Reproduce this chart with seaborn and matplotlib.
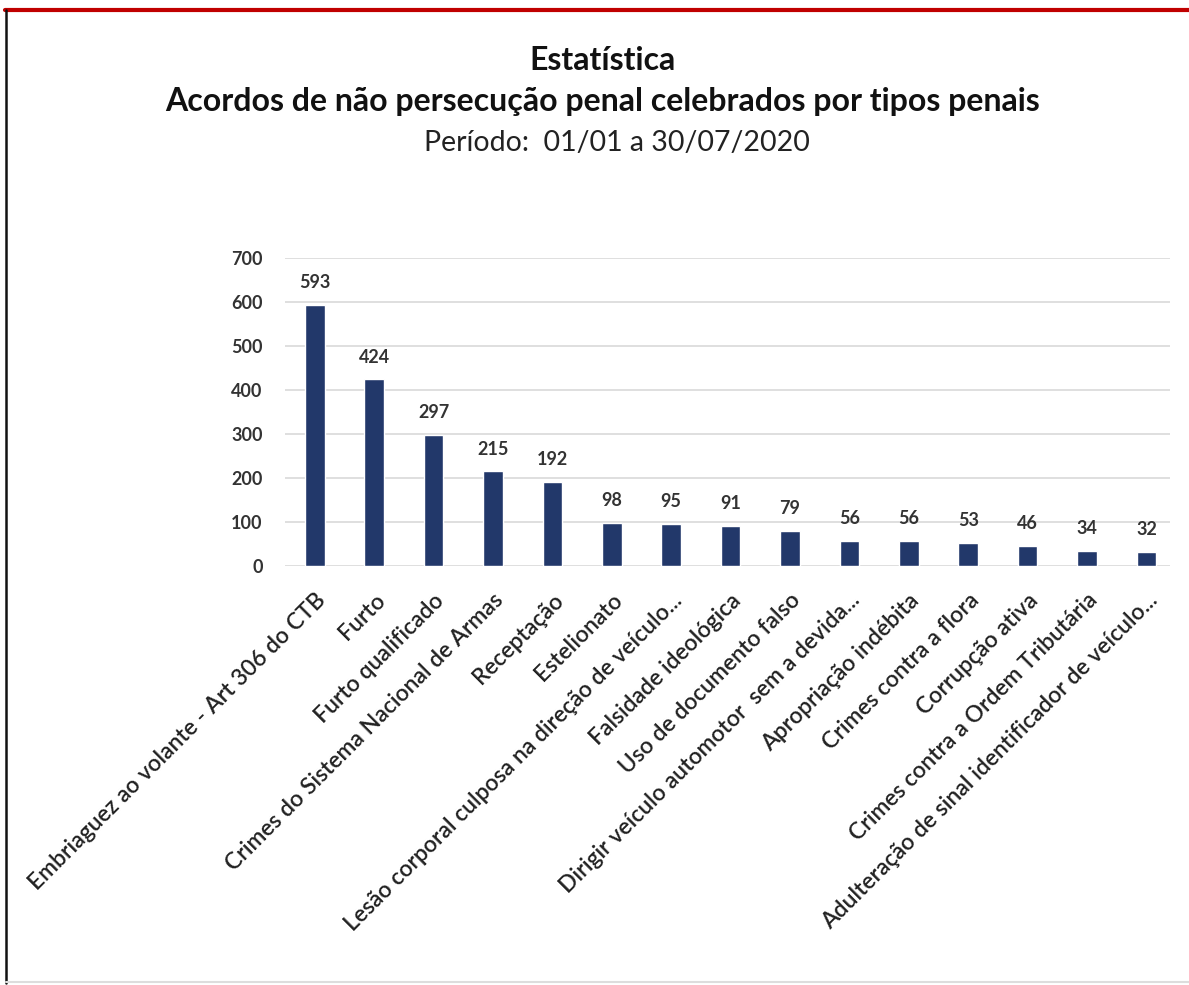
import matplotlib
matplotlib.use("Agg")
import matplotlib.pyplot as plt
import seaborn as sns
import pandas as pd
from matplotlib.lines import Line2D

categories = [
    "Embriaguez ao volante - Art 306 do CTB",
    "Furto",
    "Furto qualificado",
    "Crimes do Sistema Nacional de Armas",
    "Receptação",
    "Estelionato",
    "Lesão corporal culposa na direção de veículo...",
    "Falsidade ideológica",
    "Uso de documento falso",
    "Dirigir veículo automotor  sem a devida...",
    "Apropriação indébita",
    "Crimes contra a flora",
    "Corrupção ativa",
    "Crimes contra a Ordem Tributária",
    "Adulteração de sinal identificador de veículo...",
]
values = [593, 424, 297, 215, 192, 98, 95, 91, 79, 56, 56, 53, 46, 34, 32]
y_ticks = [0, 100, 200, 300, 400, 500, 600, 700]

df = pd.DataFrame({"tipo": categories, "qtd": values})

sns.set_theme(style="white")
plt.rcParams["font.family"] = ["Lato", "DejaVu Sans"]

fig = plt.figure(figsize=(11.89, 9.85), dpi=100)
ax = fig.add_axes([0.2397, 0.4254, 0.7445, 0.3126])

sns.barplot(data=df, x="tipo", y="qtd", color="#22386a", width=0.33,
            saturation=1, ax=ax)

ax.set_ylim(0, 700)
ax.set_xlim(-0.5, 14.4)
ax.set_yticks(y_ticks)
ax.set_yticklabels([str(t) for t in y_ticks], fontsize=13, fontweight="bold",
                   color="#333333")
ax.yaxis.grid(True, color="#d9d9d9", linewidth=1.2)
ax.set_axisbelow(True)
for s in ax.spines.values():
    s.set_visible(False)
ax.tick_params(axis="both", length=0)
ax.tick_params(axis="y", pad=16)
ax.set_xlabel("")
ax.set_ylabel("")

# rotated category labels
ax.set_xticks(range(len(categories)))
ax.set_xticklabels(categories, rotation=45, ha="right", va="top",
                   rotation_mode="anchor", fontsize=16.5, fontweight="semibold",
                   color="#222222")
ax.tick_params(axis="x", pad=17)

for c in ax.containers:
    ax.bar_label(c, labels=[str(v) for v in values], padding=10, fontsize=13,
                 fontweight="bold", color="#333333")

# titles
fig.text(0.507, 0.939, "Estatística", ha="center", va="center", fontsize=23,
         fontweight="bold", color="#111111")
fig.text(0.507, 0.897, "Acordos de não persecução penal celebrados por tipos penais",
         ha="center", va="center", fontsize=23, fontweight="bold", color="#111111")
fig.text(0.519, 0.855, "Período:  01/01 a 30/07/2020", ha="center", va="center",
         fontsize=20.5, color="#222222")

# frame lines
fig.add_artist(Line2D([0.004, 1.0], [0.9895, 0.9895], color="#c00000", linewidth=3))
fig.add_artist(Line2D([0.005, 0.005], [0.002, 0.99], color="#111111", linewidth=1.8))
fig.add_artist(Line2D([0.005, 1.0], [0.003, 0.003], color="#dddddd", linewidth=1.5))

fig.savefig("out.png", dpi=100, facecolor="white")
